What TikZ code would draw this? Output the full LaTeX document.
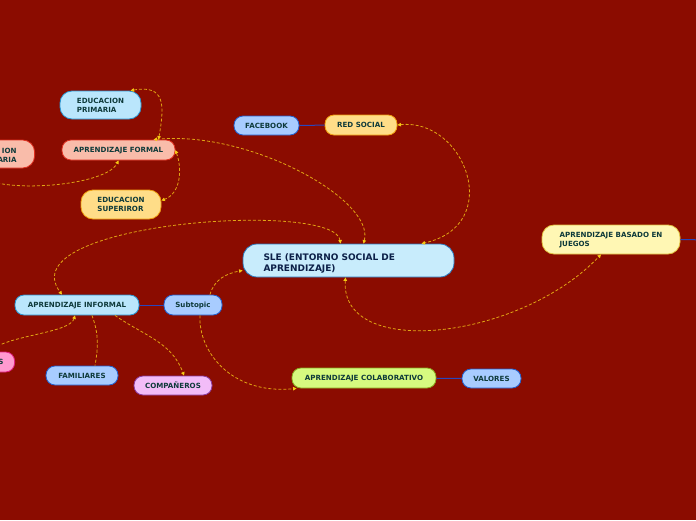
\documentclass[tikz,border=0pt]{standalone}
\usepackage{fontspec}
\setsansfont{DejaVu Sans}
\usepackage{xcolor}
\usepackage{tikz}
\usetikzlibrary{arrows.meta}
\definecolor{mapbg}{RGB}{139,12,0}
\definecolor{topictext}{RGB}{14,58,58}
\definecolor{centertext}{RGB}{12,32,72}
\definecolor{cyanfill}{RGB}{186,230,252}
\definecolor{cyanline}{RGB}{40,150,210}
\definecolor{centerfill}{RGB}{200,236,252}
\definecolor{centerline}{RGB}{40,120,190}
\definecolor{bluefill}{RGB}{168,204,255}
\definecolor{blueline}{RGB}{32,96,208}
\definecolor{salmonfill}{RGB}{249,188,170}
\definecolor{salmonline}{RGB}{224,48,32}
\definecolor{orangefill}{RGB}{255,221,136}
\definecolor{orangeline}{RGB}{240,160,16}
\definecolor{yellowfill}{RGB}{255,247,180}
\definecolor{yellowline}{RGB}{224,192,64}
\definecolor{pinkfill}{RGB}{255,154,208}
\definecolor{pinkline}{RGB}{224,32,128}
\definecolor{purplefill}{RGB}{242,188,248}
\definecolor{purpleline}{RGB}{138,58,160}
\definecolor{greenfill}{RGB}{214,250,128}
\definecolor{greenline}{RGB}{138,170,32}
\definecolor{branchblue}{RGB}{40,70,190}
\definecolor{dashcol}{RGB}{225,165,20}
\definecolor{tipcol}{RGB}{245,200,20}

\begin{document}
\begin{tikzpicture}[
    x=1pt, y=-1pt,
    font=\sffamily\bfseries\fontsize{7.1}{9}\selectfont,
    topic/.style={draw, line width=0.8pt, rounded corners=9pt, text=topictext, align=left, inner sep=2pt, text depth=0pt},
    tall/.style={rounded corners=12pt},
    cyantopic/.style={topic, draw=cyanline, fill=cyanfill},
    bluetopic/.style={topic, draw=blueline, fill=bluefill},
    salmontopic/.style={topic, draw=salmonline, fill=salmonfill},
    orangetopic/.style={topic, draw=orangeline, fill=orangefill},
    yellowtopic/.style={topic, draw=yellowline, fill=yellowfill},
    pinktopic/.style={topic, draw=pinkline, fill=pinkfill},
    purpletopic/.style={topic, draw=purpleline, fill=purplefill},
    greentopic/.style={topic, draw=greenline, fill=greenfill},
    central/.style={topic, draw=centerline, fill=centerfill, rounded corners=14pt, text=centertext,
      font=\sffamily\bfseries\fontsize{9}{11}\selectfont, text width=170pt, text depth=6.5pt},
    branch/.style={draw=branchblue, line width=1pt},
    link/.style={draw=dashcol, line width=0.8pt, dash pattern=on 3pt off 2pt},
    linkboth/.style={link, {Triangle[length=3.5pt, width=3.5pt, color=tipcol]}-{Triangle[length=3.5pt, width=3.5pt, color=tipcol]}},
    linkend/.style={link, -{Triangle[length=3.5pt, width=3.5pt, color=tipcol]}}
  ]
    \useasboundingbox (0,0) rectangle (696,520);
    \clip (0,0) rectangle (696,520);
    \fill[mapbg] (0,0) rectangle (696,520);

    % topics
    \node[cyantopic, tall, minimum width=81pt, minimum height=28pt] (primaria) at (100.5,105) {EDUCACION\\PRIMARIA};
    \node[salmontopic, tall, anchor=east, minimum width=80pt, minimum height=28pt, inner xsep=18pt, text width=44pt, align=right, text depth=5.5pt] (secundaria) at (35,154) {ION\\ARIA};
    \node[salmontopic, minimum width=113pt, minimum height=20pt] (formal) at (118.5,150) {APRENDIZAJE FORMAL};
    \node[orangetopic, tall, minimum width=80pt, minimum height=29pt] (superiror) at (121,204.5) {EDUCACION\\SUPERIROR};
    \node[bluetopic, minimum width=65pt, minimum height=19pt] (facebook) at (266.5,125.5) {FACEBOOK};
    \node[orangetopic, minimum width=72pt, minimum height=20pt] (redsocial) at (361,125) {RED SOCIAL};
    \node[central, minimum width=211pt, minimum height=33pt] (sle) at (348.5,260.5) {SLE (ENTORNO SOCIAL DE\\APRENDIZAJE)};
    \node[yellowtopic, tall, minimum width=138pt, minimum height=29pt] (juegos) at (611,239.5) {APRENDIZAJE BASADO EN\\JUEGOS};
    \coordinate (juegosnext) at (710,240);
    \node[cyantopic, minimum width=124pt, minimum height=20pt] (informal) at (77,305) {APRENDIZAJE INFORMAL};
    \node[bluetopic, minimum width=58pt, minimum height=20pt] (subtopic) at (193,305) {Subtopic};
    \node[pinktopic, anchor=east, minimum width=50pt, minimum height=20pt, inner xsep=11pt, text width=28pt, align=right] (amigos) at (15,362) {S};
    \node[bluetopic, minimum width=72pt, minimum height=19pt] (familiares) at (82,375.5) {FAMILIARES};
    \node[purpletopic, minimum width=78pt, minimum height=19pt] (companeros) at (173,385.5) {COMPAÑEROS};
    \node[greentopic, minimum width=144pt, minimum height=20pt] (colab) at (364,378) {APRENDIZAJE COLABORATIVO};
    \node[bluetopic, minimum width=59pt, minimum height=19pt] (valores) at (491.5,378.5) {VALORES};

    % branches
    \draw[branch] (facebook) -- (redsocial);
    \draw[branch] (informal) -- (subtopic);
    \draw[branch] (colab) -- (valores);
    \draw[branch] (juegos.east) -- (juegosnext);

    % relationships
    \draw[linkboth] ([xshift=40pt]formal.north) to[out=80, in=10, looseness=1.6] ([xshift=30pt]primaria.north);
    \draw[linkboth] (formal.east) to[out=-70, in=20] ([yshift=4pt]superiror.east);
    \draw[linkboth] ([xshift=-20pt]secundaria.south) .. controls (-15,195) and (105,188) .. (formal.south);
    \draw[linkboth] ([xshift=15pt]sle.north) .. controls (375,200) and (250,130) .. ([xshift=35pt]formal.north);
    \draw[linkboth] ([xshift=-8pt]sle.north) .. controls (335,200) and (8,222) .. ([xshift=-15pt]informal.north);
    \draw[linkboth] (redsocial.east) .. controls (465,118) and (505,225) .. ([xshift=73pt]sle.north);
    \draw[linkboth] ([xshift=-3pt]sle.south) .. controls (340,360) and (520,340) .. ([xshift=-10pt]juegos.south);
    \draw[linkend] ([xshift=17pt]subtopic.north) to[out=75, in=190] ([yshift=-10pt]sle.west);
    \draw[linkend] ([xshift=7pt]subtopic.south) .. controls (198,350) and (230,395) .. ([xshift=5pt]colab.south west);
    \draw[linkboth] ([xshift=-2pt]informal.south) .. controls (70,333) and (10,335) .. (amigos.north);
    \draw[link] ([xshift=15pt]informal.south) to[out=-70, in=80] ([xshift=13pt]familiares.north);
    \draw[linkend] ([xshift=38pt]informal.south) to[out=-35, in=110] ([xshift=11pt]companeros.north);
  \end{tikzpicture}
\end{document}
